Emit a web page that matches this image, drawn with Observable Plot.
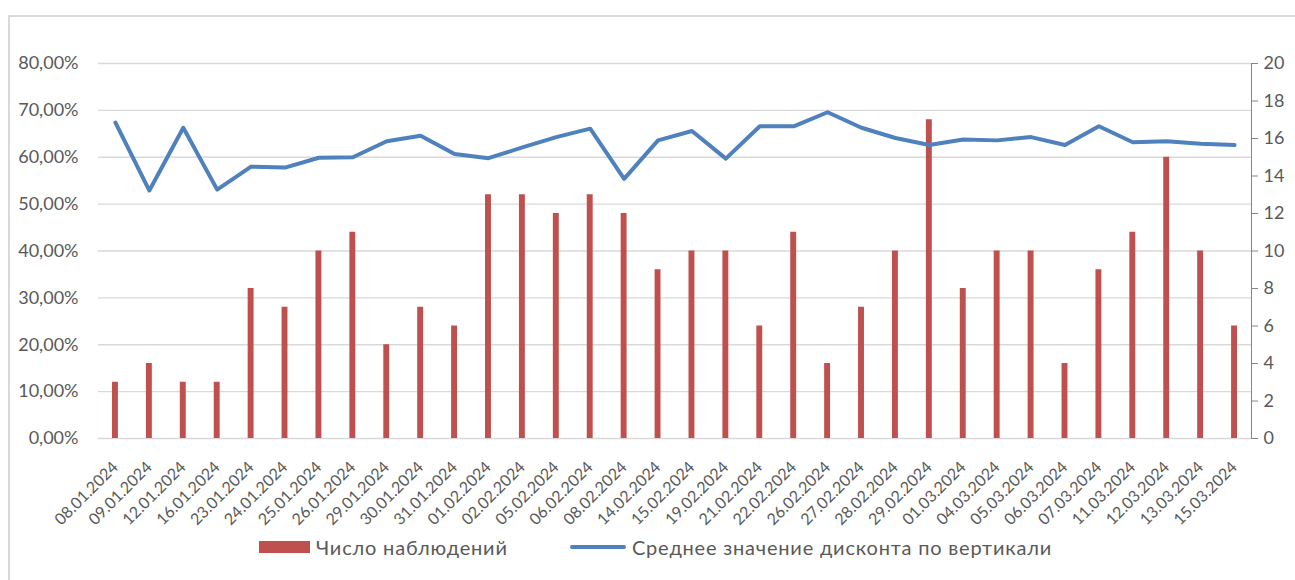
<!DOCTYPE html>
<html><head><meta charset="utf-8">
<script src="https://cdn.jsdelivr.net/npm/d3@7"></script>
<script src="https://cdn.jsdelivr.net/npm/@observablehq/plot@0.6"></script>
<style>
html,body{margin:0;padding:0;background:#fff;}
#wrap{position:relative;width:1295px;height:580px;overflow:hidden;font-family:Lato,"Open Sans",sans-serif;}
#frame{position:absolute;left:8px;top:15px;width:1300px;height:600px;border-left:2px solid #d9d9d9;border-top:2px solid #d9d9d9;}
#chart{position:absolute;left:0;top:0;}
#legend{position:absolute;left:0;top:530px;width:1295px;height:40px;color:#595959;font-size:20px;letter-spacing:0.8px;}
.li{position:absolute;top:5px;display:flex;align-items:center;}
.sw{display:inline-block;margin-right:6px;}
</style></head>
<body><div id="wrap"><div id="frame"></div><div id="chart"></div>
<div id="legend">
<div class="li" style="left:259px"><span class="sw" style="width:51px;height:12px;background:#c0504d"></span><span>Число наблюдений</span></div>
<div class="li" style="left:570px"><span class="sw" style="width:56px;height:4px;background:#4f81bd;border-radius:2px"></span><span>Среднее значение дисконта по вертикали</span></div>
</div></div>
<script>
const dates = ["08.01.2024","09.01.2024","12.01.2024","16.01.2024","23.01.2024","24.01.2024","25.01.2024","26.01.2024","29.01.2024","30.01.2024","31.01.2024","01.02.2024","02.02.2024","05.02.2024","06.02.2024","08.02.2024","14.02.2024","15.02.2024","19.02.2024","21.02.2024","22.02.2024","26.02.2024","27.02.2024","28.02.2024","29.02.2024","01.03.2024","04.03.2024","05.03.2024","06.03.2024","07.03.2024","11.03.2024","12.03.2024","13.03.2024","15.03.2024"];
const counts = [3,4,3,3,8,7,10,11,5,7,6,13,13,12,13,12,9,10,10,6,11,4,7,10,17,8,10,10,4,9,11,15,10,6];
const discount = [67.4,52.9,66.3,53.1,58.0,57.8,59.9,60.0,63.4,64.6,60.7,59.8,62.1,64.3,66.1,55.4,63.6,65.6,59.7,66.6,66.6,69.6,66.3,64.1,62.6,63.8,63.6,64.3,62.6,66.6,63.2,63.4,62.9,62.6];
const leftTicks = [0,10,20,30,40,50,60,70,80];
const rightTicks = [0,2,4,6,8,10,12,14,16,18,20];
const rightMax = 20, leftMax = 80;
const k = leftMax / rightMax;

const rows = dates.map((d,i)=>({date:d, count:counts[i], disc:discount[i]}));

const chart = Plot.plot({
  width: 1295, height: 528,
  marginTop: 63, marginLeft: 98, marginRight: 44, marginBottom: 90,
  style: {fontFamily: "Lato, 'Open Sans', sans-serif", color: "#595959", background: "transparent"},
  x: {type: "band", domain: dates, padding: 0},
  y: {domain: [0, leftMax]},
  marks: [
    Plot.gridY(leftTicks, {stroke: "#d9d9d9", strokeOpacity: 1, strokeWidth: 1.3}),
    Plot.barY(rows, {x: "date", y: d => d.count * k, fill: "#c0504d", insetLeft: 14, insetRight: 14}),
    Plot.lineY(rows, {x: "date", y: "disc", stroke: "#4f81bd", strokeWidth: 4, strokeLinejoin: "round", strokeLinecap: "round"}),
    Plot.axisY(leftTicks, {anchor: "left", tickSize: 0, tickPadding: 20, fontSize: 18, label: null,
      tickFormat: d => d.toFixed(2).replace(".", ",") + "%"}),
    Plot.axisY(rightTicks.map(v => v * k), {anchor: "right", tickSize: 6, tickPadding: 6, fontSize: 18, label: null, stroke: "#868686",
      tickFormat: d => String(d / k)}),
    Plot.frame({anchor: "right", stroke: "#868686"}),
    Plot.axisX({tickRotate: -45, tickSize: 0, tickPadding: 26, fontSize: 16, label: null})
  ]
});
document.getElementById("chart").appendChild(chart);
</script></body></html>
